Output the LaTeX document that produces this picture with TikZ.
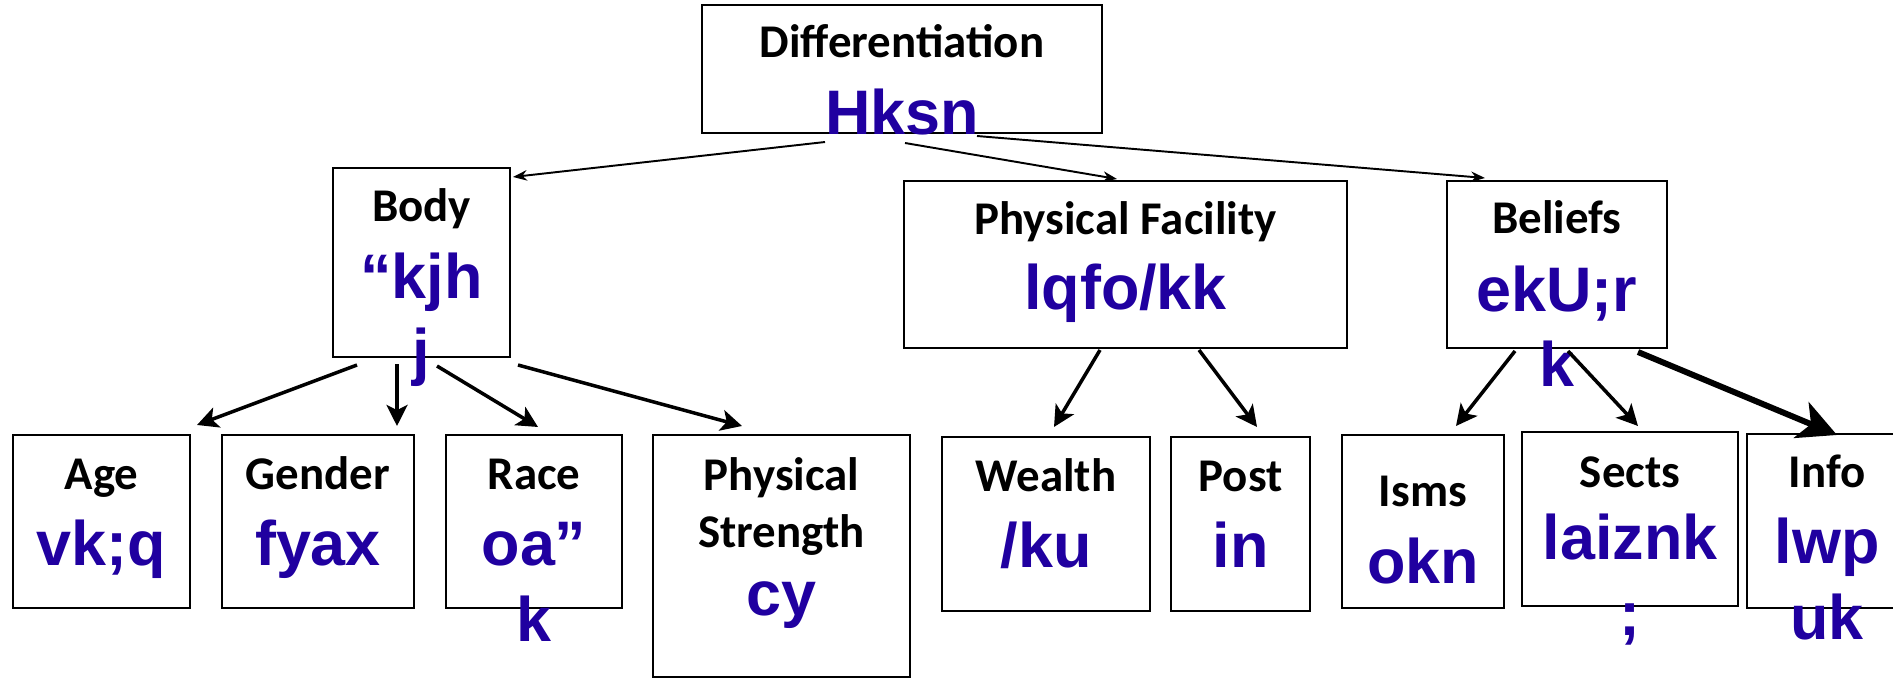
\documentclass[tikz,border=0pt]{standalone}
\usepackage{fontspec}
\usetikzlibrary{arrows.meta, calc}
\newfontfamily\titlefam{Carlito}
\newfontfamily\hindfam{Liberation Sans}
\definecolor{hblue}{HTML}{2000A0}
\newlength\pu
\setlength\pu{0.02cm}

\begin{document}
\begin{tikzpicture}
    [
        x=0.02cm, y=-0.02cm,
        box/.style={rectangle, draw=black, line width=1.15pt, inner sep=0pt},
        title/.style={anchor=base, inner sep=0pt, align=center, font=\titlefam\bfseries\fontsize{26.7}{32.4}\selectfont},
        hindi/.style={anchor=base, inner sep=0pt, align=center, text=hblue, font=\hindfam\bfseries\fontsize{35.8}{43.2}\selectfont},
        thinlink/.style={-{Stealth[length=8pt, width=6pt]}, line width=1.1pt},
        link/.style={-{Stealth[length=12pt, width=12pt, inset=3pt]}, line width=2pt},
        biglink/.style={-{Stealth[length=22pt, width=22pt, inset=6pt]}, line width=3.4pt},
    ]
    \useasboundingbox (0,0) rectangle (1893,678);

    \node (diff) at (902,69) [box, minimum width=400\pu, minimum height=128\pu] {};
    \node (body) at (421.5,262.5) [box, minimum width=177\pu, minimum height=189\pu] {};
    \node (phyfac) at (1125.5,264.5) [box, minimum width=443\pu, minimum height=167\pu] {};
    \node (beliefs) at (1557,264.5) [box, minimum width=220\pu, minimum height=167\pu] {};
    \node (age) at (101.5,521.5) [box, minimum width=177\pu, minimum height=173\pu] {};
    \node (gender) at (318,521.5) [box, minimum width=192\pu, minimum height=173\pu] {};
    \node (race) at (534,521.5) [box, minimum width=176\pu, minimum height=173\pu] {};
    \node (strength) at (781.5,556) [box, minimum width=257\pu, minimum height=242\pu] {};
    \node (wealth) at (1046,524) [box, minimum width=208\pu, minimum height=174\pu] {};
    \node (post) at (1240.5,524) [box, minimum width=139\pu, minimum height=174\pu] {};
    \node (isms) at (1423,521.5) [box, minimum width=162\pu, minimum height=173\pu] {};
    \node (sects) at (1630,519) [box, minimum width=216\pu, minimum height=174\pu] {};
    \node (info) at (1827,521) [box, minimum width=160\pu, minimum height=174\pu] {};

    \node (diff title) at (902,58) [title] {Differentiation};
    \node (diff hindi) at (902,135) [hindi] {Hksn};
    \node (body title) at (421.5,222) [title] {Body};
    \node (body hindi) at (421.5,374) [hindi] {“kjh\\j};
    \node (phyfac title) at (1125.5,235) [title] {Physical Facility};
    \node (phyfac hindi) at (1125.5,310) [hindi] {lqfo/kk};
    \node (beliefs title) at (1557,234) [title] {Beliefs};
    \node (beliefs hindi) at (1557,387) [hindi] {ekU;r\\k};
    \node (age title) at (101.5,490) [title] {Age};
    \node (age hindi) at (101.5,565) [hindi] {vk;q};
    \node (gender title) at (318,490) [title] {Gender};
    \node (gender hindi) at (318,565) [hindi] {fyax};
    \node (race title) at (534,490) [title] {Race};
    \node (race hindi) at (534,641) [hindi] {oa”\\k};
    \node (strength title) at (781.5,547) [title] {Physical\\Strength};
    \node (strength hindi) at (781.5,615) [hindi] {cy};
    \node (wealth title) at (1046,492) [title] {Wealth};
    \node (wealth hindi) at (1046,567) [hindi] {/ku};
    \node (post title) at (1240.5,492) [title] {Post};
    \node (post hindi) at (1240.5,567) [hindi] {in};
    \node (isms title) at (1423,507) [title] {Isms};
    \node (isms hindi) at (1423,583) [hindi] {okn};
    \node (sects title) at (1630,488) [title] {Sects};
    \node (sects hindi) at (1630,635) [hindi] {laiznk\\;};
    \node (info title) at (1827,488) [title] {Info};
    \node (info hindi) at (1827,639) [hindi] {lwp\\uk};

    \draw [thinlink] ($(diff.south)+(-77,8)$) -- ($(body.north east)+(2,10)$);
    \draw [thinlink] ($(diff.south)+(3,9)$) -- ($(phyfac.north)+(-8.5,-1)$);
    \draw [thinlink] ($(diff.south)+(75,2)$) -- ($(beliefs.north west)+(39,-2)$);

    \draw [link] ($(body.south)+(-64.5,7)$) -- ($(age.north east)+(6,-9)$);
    \draw [link] ($(body.south)+(-24.5,6)$) -- ($(gender.north)+(79,-8)$);
    \draw [link] ($(body.south)+(15.5,8)$) -- ($(race.north)+(4,-7)$);
    \draw [link] ($(body.south)+(96.5,7)$) -- ($(strength.north)+(-39.5,-8)$);
    \draw [link] ($(phyfac.south)+(-25.5,1)$) -- ($(wealth.north)+(8,-9)$);
    \draw [link] ($(phyfac.south)+(73.5,1)$) -- ($(post.north)+(16.5,-9)$);
    \draw [link] ($(beliefs.south)+(-42,2)$) -- ($(isms.north)+(33,-8)$);
    \draw [link] ($(beliefs.south)+(11,2)$) -- ($(sects.north)+(8,-5)$);
    \draw [biglink] ($(beliefs.south)+(81,3)$) -- ($(info.north)+(10,2)$);
\end{tikzpicture}
\end{document}
